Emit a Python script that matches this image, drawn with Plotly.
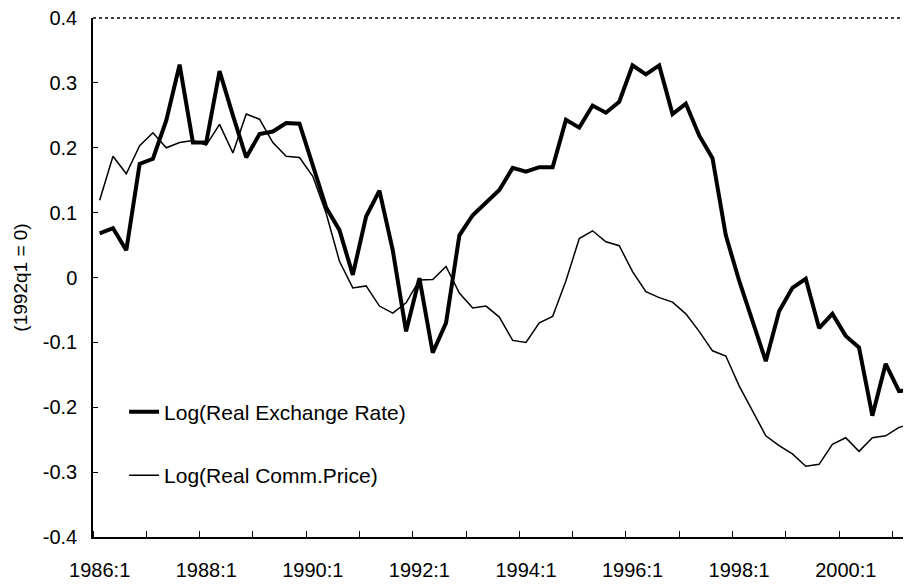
import plotly.graph_objects as go

# quarterly, 1986:1 .. 2001:2
quarters = [f"{y}:{q}" for y in range(1986, 2002) for q in range(1, 5)][:62]

real_exchange_rate = [
    0.068, 0.076, 0.042, 0.175, 0.183, 0.242, 0.328, 0.208,
    0.208, 0.318, 0.250, 0.185, 0.221, 0.225, 0.238, 0.237,
    0.173, 0.108, 0.073, 0.004, 0.094, 0.134, 0.042, -0.083,
    -0.001, -0.116, -0.070, 0.065, 0.096, 0.116, 0.135, 0.169,
    0.163, 0.170, 0.170, 0.243, 0.231, 0.265, 0.254, 0.271,
    0.327, 0.313, 0.327, 0.252, 0.268, 0.219, 0.184, 0.065,
    -0.005, -0.067, -0.129, -0.052, -0.016, -0.002, -0.078, -0.056,
    -0.090, -0.108, -0.213, -0.133, -0.175, -0.173,
]

real_comm_price = [
    0.119, 0.187, 0.160, 0.203, 0.223, 0.200, 0.208, 0.211,
    0.204, 0.236, 0.192, 0.252, 0.244, 0.208, 0.187, 0.185,
    0.156, 0.099, 0.025, -0.016, -0.013, -0.044, -0.055, -0.039,
    -0.004, -0.003, 0.017, -0.024, -0.047, -0.044, -0.061, -0.097,
    -0.100, -0.070, -0.060, -0.005, 0.060, 0.072, 0.055, 0.049,
    0.009, -0.022, -0.031, -0.038, -0.056, -0.083, -0.113, -0.121,
    -0.167, -0.205, -0.244, -0.259, -0.272, -0.291, -0.288, -0.257,
    -0.247, -0.268, -0.247, -0.244, -0.231, -0.225,
]

x_labels = ["1986:1", "1988:1", "1990:1", "1992:1", "1994:1", "1996:1", "1998:1", "2000:1"]
y_vals = [0.4, 0.3, 0.2, 0.1, 0, -0.1, -0.2, -0.3, -0.4]
y_labels = ["0.4", "0.3", "0.2", "0.1", "0", "-0.1", "-0.2", "-0.3", "-0.4"]

idx = list(range(len(quarters)))
family = "Liberation Sans, Arial"
tick_font = dict(family=family, size=20, color="black")

fig = go.Figure()
fig.add_trace(go.Scatter(
    x=idx, y=real_exchange_rate, mode="lines", name="Log(Real Exchange Rate)",
    line=dict(color="black", width=4), legendgroup="a",
))
fig.add_trace(go.Scatter(
    x=idx, y=real_comm_price, mode="lines", name="Log(Real Comm.Price)",
    line=dict(color="black", width=1.5), legendgroup="b",
))

fig.update_xaxes(
    range=[-0.5, 60.9],
    tickmode="array",
    tickvals=[quarters.index(t) for t in x_labels],
    ticktext=x_labels,
    ticks="",
    ticklabelstandoff=14,
    minor=dict(tick0=-0.5, dtick=4, ticks="inside", ticklen=6, tickcolor="black", tickwidth=1),
    showline=True, linecolor="black", linewidth=2,
    showgrid=False, zeroline=False,
    tickfont=tick_font, automargin=False,
)
fig.update_yaxes(
    range=[-0.4, 0.4],
    tickmode="array",
    tickvals=y_vals,
    ticktext=y_labels,
    ticks="inside", ticklen=5, tickcolor="black", tickwidth=1,
    ticklabelstandoff=10,
    ticklabeloverflow="allow",
    showline=True, linecolor="black", linewidth=1.5,
    showgrid=False, zeroline=False,
    tickfont=tick_font, automargin=False,
    title=dict(text="(1992q1 = 0)", font=dict(family=family, size=19, color="black"), standoff=10),
)

# dotted frame on top
fig.add_shape(type="line", xref="paper", yref="paper", x0=0, x1=1, y0=1, y1=1,
              line=dict(color="black", width=1.5, dash="dot"))

# page body has an 8px margin, so the figure is kept 8px smaller
fig.update_layout(
    width=903, height=578,
    margin=dict(l=85, r=0, t=10, b=49),
    plot_bgcolor="white", paper_bgcolor="white",
    font=tick_font,
    showlegend=True,
    legend=dict(
        x=0.038, y=0.28, xanchor="left", yanchor="top",
        bgcolor="rgba(0,0,0,0)", traceorder="grouped", tracegroupgap=33,
        font=dict(family=family, size=21, color="black"), itemwidth=30,
    ),
)

fig.write_html("out.html")
